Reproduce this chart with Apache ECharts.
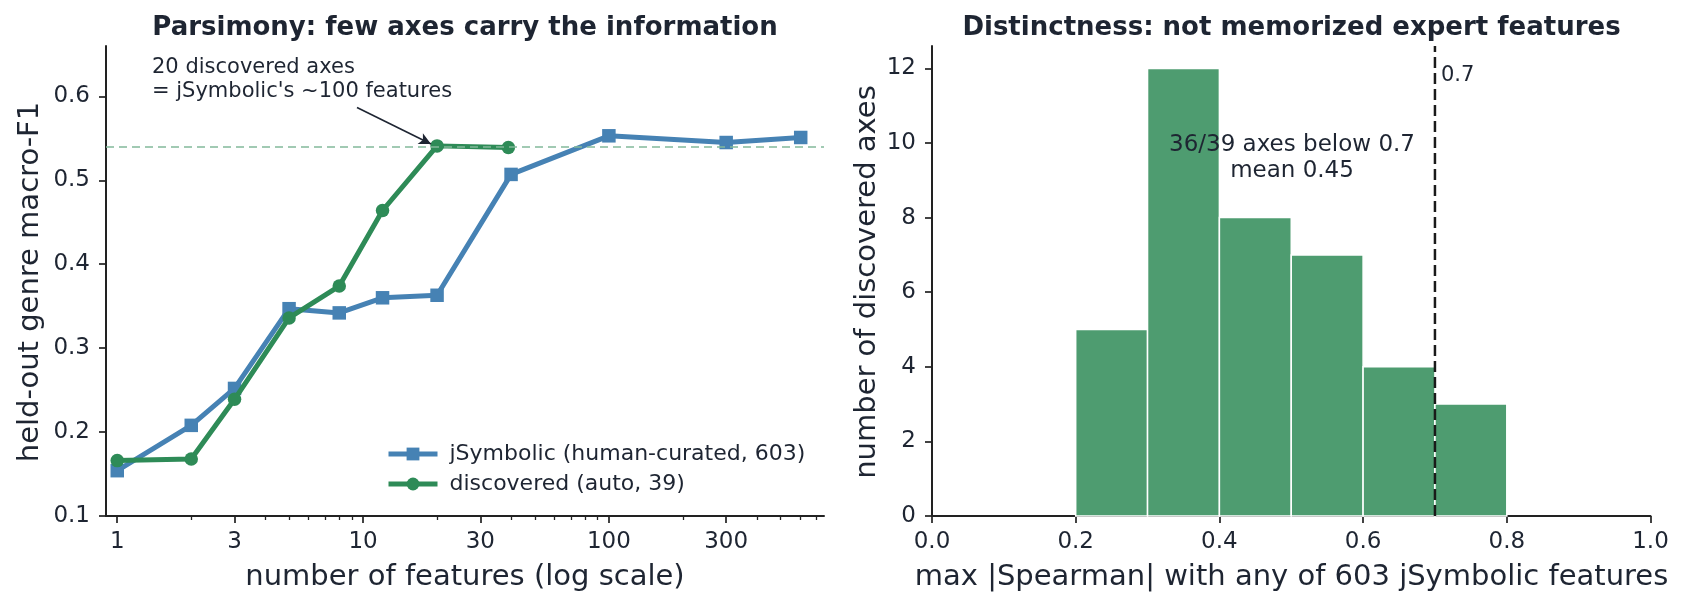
<!DOCTYPE html>
<html>
<head>
<meta charset="utf-8">
<script src="https://cdn.jsdelivr.net/npm/echarts@6/dist/echarts.min.js"></script>
<style>
html,body{margin:0;padding:0;background:#fff;}
#c{width:1686px;height:606px;}
</style>
</head>
<body>
<div id="c"></div>
<script>
// ---- data ----
const jsymFeatures = [1, 2, 3, 5, 8, 12, 20, 40, 100, 300, 603];
const jsymF1 = [0.154, 0.208, 0.252, 0.347, 0.342, 0.360, 0.363, 0.507, 0.553, 0.545, 0.551];
const discFeatures = [1, 2, 3, 5, 8, 12, 20, 39];
const discF1 = [0.166, 0.168, 0.239, 0.336, 0.374, 0.464, 0.541, 0.539];
const refLineF1 = 0.539;
const logMajorTicks = [1, 3, 10, 30, 100, 300];
const logMinorTicks = [2, 4, 5, 6, 7, 8, 9, 20, 40, 50, 60, 70, 80, 90, 200, 400, 500, 600, 700];
const f1Ticks = [0.1, 0.2, 0.3, 0.4, 0.5, 0.6];

const binEdges = [0.2, 0.3, 0.4, 0.5, 0.6, 0.7, 0.8];
const binCounts = [5, 12, 8, 7, 4, 3];
const countTicks = [0, 2, 4, 6, 8, 10, 12];
const threshold = 0.7;

// ---- style ----
const FONT = 'DejaVu Sans';
const TXT = '#1e2532';
const AX = '#222222';
const BLUE = '#4682b4';
const GREEN = '#2e8b57';
const BAR = '#4e9c70';

const histData = binCounts.map((c, i) => [binEdges[i], binEdges[i + 1], c]);

const axisCommon = {
  axisLine: {show: true, lineStyle: {color: AX, width: 2}},
  axisTick: {show: true, inside: false, length: 7, lineStyle: {color: AX, width: 1.7}},
  splitLine: {show: false},
  axisLabel: {color: TXT, fontFamily: FONT, fontSize: 23}
};

const chart = echarts.init(document.getElementById('c'), null, {renderer: 'canvas'});
const option = {
  animation: false,
  backgroundColor: '#fff',
  textStyle: {fontFamily: FONT},
  grid: [
    {left: 106, top: 46, width: 718, height: 470},
    {left: 932, top: 46, width: 718.5, height: 470}
  ],
  xAxis: [
    {
      gridIndex: 0, type: 'log', logBase: 10, min: 0.9, max: 750,
      axisLine: axisCommon.axisLine,
      axisTick: Object.assign({}, axisCommon.axisTick, {customValues: logMajorTicks}),
      axisLabel: Object.assign({}, axisCommon.axisLabel, {customValues: logMajorTicks, margin: 15, formatter: v => String(Math.round(v))}),
      splitLine: {show: false}, minorTick: {show: false}
    },
    {
      gridIndex: 0, type: 'log', logBase: 10, min: 0.9, max: 750, position: 'bottom',
      axisLine: {show: false},
      axisTick: {show: true, inside: false, length: 4, customValues: logMinorTicks, lineStyle: {color: AX, width: 1.3}},
      axisLabel: {show: false},
      splitLine: {show: false}
    },
    {
      gridIndex: 1, type: 'value', min: 0, max: 1, interval: 0.2,
      axisLine: axisCommon.axisLine,
      axisTick: axisCommon.axisTick,
      axisLabel: Object.assign({}, axisCommon.axisLabel, {margin: 15, formatter: v => v.toFixed(1)}),
      splitLine: {show: false}
    }
  ],
  yAxis: [
    {
      gridIndex: 0, type: 'value', min: 0.1, max: 0.66,
      axisLine: axisCommon.axisLine,
      axisTick: Object.assign({}, axisCommon.axisTick, {customValues: f1Ticks}),
      axisLabel: Object.assign({}, axisCommon.axisLabel, {customValues: f1Ticks, margin: 16, formatter: v => v.toFixed(1)}),
      splitLine: {show: false}
    },
    {
      gridIndex: 1, type: 'value', min: 0, max: 12.6,
      axisLine: axisCommon.axisLine,
      axisTick: Object.assign({}, axisCommon.axisTick, {customValues: countTicks}),
      axisLabel: Object.assign({}, axisCommon.axisLabel, {customValues: countTicks, margin: 16, formatter: v => String(v)}),
      splitLine: {show: false}
    }
  ],
  legend: {
    left: 381, top: 438, orient: 'vertical',
    itemWidth: 49, itemHeight: 16, itemGap: 8,
    lineStyle: {width: 5},
    textStyle: {fontFamily: FONT, fontSize: 22, color: TXT, padding: [0, 0, 0, 7]},
    data: ['jSymbolic (human-curated, 603)', 'discovered (auto, 39)']
  },
  series: [
    {
      name: 'jSymbolic (human-curated, 603)', type: 'line', xAxisIndex: 0, yAxisIndex: 0,
      data: jsymFeatures.map((x, i) => [x, jsymF1[i]]),
      symbol: 'rect', symbolSize: 13.5, showSymbol: true,
      lineStyle: {color: BLUE, width: 5}, itemStyle: {color: BLUE},
      z: 3,
      markLine: {
        silent: true, symbol: ['none', 'none'], label: {show: false},
        lineStyle: {color: '#82b99a', width: 1.5, type: [8, 5]},
        data: [{yAxis: refLineF1}]
      }
    },
    {
      name: 'discovered (auto, 39)', type: 'line', xAxisIndex: 0, yAxisIndex: 0,
      data: discFeatures.map((x, i) => [x, discF1[i]]),
      symbol: 'circle', symbolSize: 13.5, showSymbol: true,
      lineStyle: {color: GREEN, width: 5}, itemStyle: {color: GREEN},
      z: 4,
      markLine: {
        silent: true, symbol: ['none', 'arrow'], symbolSize: [9, 12], label: {show: false},
        lineStyle: {color: TXT, width: 1.6, type: 'solid'},
        data: [[{x: 357, y: 107.5}, {x: 431, y: 144}]]
      }
    },
    {
      type: 'custom', xAxisIndex: 2, yAxisIndex: 1,
      data: histData,
      encode: {x: [0, 1], y: 2},
      renderItem: function (params, api) {
        const p0 = api.coord([api.value(0), 0]);
        const p1 = api.coord([api.value(1), api.value(2)]);
        return {
          type: 'rect',
          shape: {x: p0[0], y: p1[1], width: p1[0] - p0[0], height: p0[1] - p1[1]},
          style: {fill: BAR, stroke: '#ffffff', lineWidth: 1.5}
        };
      },
      z: 2
    },
    {
      type: 'line', xAxisIndex: 2, yAxisIndex: 1,
      data: [[threshold, 0], [threshold, 12.6]],
      symbol: 'none',
      lineStyle: {color: '#1a1a1a', width: 2.5, type: [11, 5]},
      z: 5
    }
  ],
  graphic: [
    {type: 'text', z: 100, x: 465, y: 28, style: {text: 'Parsimony: few axes carry the information', font: 'bold 26px "DejaVu Sans"', fill: TXT, align: 'center', verticalAlign: 'middle'}},
    {type: 'text', z: 100, x: 1291.5, y: 28, style: {text: 'Distinctness: not memorized expert features', font: 'bold 26px "DejaVu Sans"', fill: TXT, align: 'center', verticalAlign: 'middle'}},
    {type: 'text', z: 100, x: 465, y: 577, style: {text: 'number of features (log scale)', font: '29px "DejaVu Sans"', fill: TXT, align: 'center', verticalAlign: 'middle'}},
    {type: 'text', z: 100, x: 1291.5, y: 577, style: {text: 'max |Spearman| with any of 603 jSymbolic features', font: '29px "DejaVu Sans"', fill: TXT, align: 'center', verticalAlign: 'middle'}},
    {type: 'text', z: 100, x: 30, y: 282, rotation: Math.PI / 2, style: {text: 'held-out genre macro-F1', font: '29px "DejaVu Sans"', fill: TXT, align: 'center', verticalAlign: 'middle'}},
    {type: 'text', z: 100, x: 867, y: 282, rotation: Math.PI / 2, style: {text: 'number of discovered axes', font: '29px "DejaVu Sans"', fill: TXT, align: 'center', verticalAlign: 'middle'}},
    {type: 'text', z: 100, x: 152, y: 80, style: {text: '20 discovered axes\n= jSymbolic\'s ~100 features', font: '21px "DejaVu Sans"', lineHeight: 24, fill: TXT, align: 'left', verticalAlign: 'middle'}},
    {type: 'text', z: 100, x: 1292, y: 158, style: {text: '36/39 axes below 0.7\nmean 0.45', font: '23px "DejaVu Sans"', lineHeight: 26, fill: TXT, align: 'center', verticalAlign: 'middle'}},
    {type: 'text', z: 100, x: 1441, y: 76, style: {text: '0.7', font: '21px "DejaVu Sans"', fill: TXT, align: 'left', verticalAlign: 'middle'}}
  ]
};
chart.setOption(option);
</script>
</body>
</html>
